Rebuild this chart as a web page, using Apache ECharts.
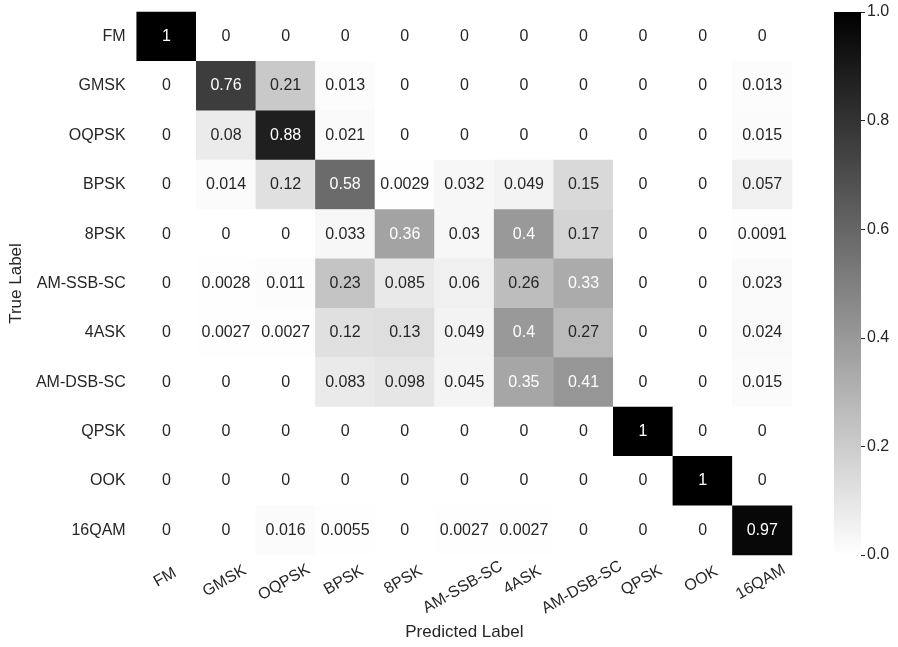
<!DOCTYPE html>
<html>
<head>
<meta charset="utf-8">
<script src="https://cdn.jsdelivr.net/npm/echarts@6/dist/echarts.min.js"></script>
<style>
html,body{margin:0;padding:0;background:#fff;}
#chart{width:898px;height:647px;}
</style>
</head>
<body>
<div id="chart"></div>
<script>
// Class labels (predicted = columns, true = rows)
const classes = ['FM','GMSK','OQPSK','BPSK','8PSK','AM-SSB-SC','4ASK','AM-DSB-SC','QPSK','OOK','16QAM'];

// Confusion matrix rows (true label), values per predicted label
const rowFM       = [1, 0, 0, 0, 0, 0, 0, 0, 0, 0, 0];
const rowGMSK     = [0, 0.76, 0.21, 0.013, 0, 0, 0, 0, 0, 0, 0.013];
const rowOQPSK    = [0, 0.08, 0.88, 0.021, 0, 0, 0, 0, 0, 0, 0.015];
const rowBPSK     = [0, 0.014, 0.12, 0.58, 0.0029, 0.032, 0.049, 0.15, 0, 0, 0.057];
const row8PSK     = [0, 0, 0, 0.033, 0.36, 0.03, 0.4, 0.17, 0, 0, 0.0091];
const rowAMSSBSC  = [0, 0.0028, 0.011, 0.23, 0.085, 0.06, 0.26, 0.33, 0, 0, 0.023];
const row4ASK     = [0, 0.0027, 0.0027, 0.12, 0.13, 0.049, 0.4, 0.27, 0, 0, 0.024];
const rowAMDSBSC  = [0, 0, 0, 0.083, 0.098, 0.045, 0.35, 0.41, 0, 0, 0.015];
const rowQPSK     = [0, 0, 0, 0, 0, 0, 0, 0, 1, 0, 0];
const rowOOK      = [0, 0, 0, 0, 0, 0, 0, 0, 0, 1, 0];
const row16QAM    = [0, 0, 0.016, 0.0055, 0, 0.0027, 0.0027, 0, 0, 0, 0.97];

// Colorbar tick values
const colorbarTicks = [0, 0.2, 0.4, 0.6, 0.8, 1.0];

const rows = [rowFM,rowGMSK,rowOQPSK,rowBPSK,row8PSK,rowAMSSBSC,row4ASK,rowAMDSBSC,rowQPSK,rowOOK,row16QAM];

const FONT = "'Liberation Sans', Arial, sans-serif";
const TXT = '#262626';

function fmt(v){ return String(parseFloat(v.toPrecision(2))); }
function textColor(v){
  const g = 1 - v;
  const lum = g <= 0.03928 ? g/12.92 : Math.pow((g+0.055)/1.055, 2.4);
  return lum > 0.408 ? TXT : '#ffffff';
}

const data = [];
rows.forEach((r, yi) => r.forEach((v, xi) => {
  data.push({ value: [xi, yi, v], label: { color: textColor(v) } });
}));

// x tick labels: rotated 30deg; each label is shifted straight down
// below the heatmap (longer labels a little lower), via rich padding
const ctx = document.createElement('canvas').getContext('2d');
ctx.font = "16px 'Liberation Sans'";
const xRich = {};
classes.forEach((c, i) => {
  const L = ctx.measureText(c).width;
  const s = 19 + 0.15 * L;
  const dx = -1.5;
  // local shift: along text = -0.5s + 0.866dx, perpendicular = 0.866s + 0.5dx
  const along = -0.5 * s + 0.866 * dx;
  const perp = 0.866 * s + 0.5 * dx;
  xRich['t' + i] = {
    fontSize: 16, color: TXT, fontFamily: FONT,
    padding: [Math.max(0, 2 * perp), Math.max(0, -2 * along), Math.max(0, -2 * perp), Math.max(0, 2 * along)]
  };
});

const chart = echarts.init(document.getElementById('chart'));
chart.setOption({
  backgroundColor: '#ffffff',
  animation: false,
  textStyle: { fontFamily: FONT },
  grid: [
    { left: 122, top: 12, width: 670, height: 543 },
    { left: 834, top: 12, width: 27, height: 543 }
  ],
  xAxis: [
    {
      type: 'category', gridIndex: 0, data: classes, z: 10,
      axisLine: { show: false }, axisTick: { show: false }, splitLine: { show: false },
      axisLabel: { interval: 0, rotate: 30, align: 'center', verticalAlign: 'middle', margin: 0,
                   fontSize: 16, color: TXT, fontFamily: FONT, hideOverlap: false,
                   formatter: (v, i) => '{t' + i + '|' + v + '}', rich: xRich },
      name: 'Predicted Label', nameLocation: 'middle', nameGap: 69,
      nameTextStyle: { fontSize: 17, color: TXT, fontFamily: FONT }
    },
    {
      type: 'category', gridIndex: 1, data: ['cb'], show: false
    }
  ],
  yAxis: [
    {
      type: 'category', gridIndex: 0, data: classes, inverse: true,
      axisLine: { show: false }, axisTick: { show: false }, splitLine: { show: false },
      axisLabel: { interval: 0, fontSize: 16, color: TXT, fontFamily: FONT, margin: 11 },
      name: 'True Label', nameLocation: 'middle', nameGap: 100, nameRotate: 90,
      nameTextStyle: { fontSize: 17, color: TXT, fontFamily: FONT }
    },
    {
      type: 'value', gridIndex: 1, position: 'right', min: 0, max: 1, interval: 0.2,
      axisLine: { show: false }, splitLine: { show: false },
      axisTick: { show: true, length: 4, lineStyle: { color: TXT, width: 1 } },
      axisLabel: { fontSize: 16, color: TXT, fontFamily: FONT, margin: 6,
                   formatter: v => v.toFixed(1) }
    }
  ],
  visualMap: {
    show: false, type: 'continuous', min: 0, max: 1, seriesIndex: 0,
    inRange: { color: ['#ffffff', '#000000'] }
  },
  series: [
    {
      type: 'heatmap', xAxisIndex: 0, yAxisIndex: 0, data: data,
      label: { show: true, fontSize: 16, fontFamily: FONT,
               formatter: p => fmt(p.value[2]) },
      itemStyle: { borderWidth: 0 },
      emphasis: { disabled: true }
    },
    {
      type: 'bar', xAxisIndex: 1, yAxisIndex: 1, barWidth: '100%',
      data: [colorbarTicks[colorbarTicks.length - 1]],
      itemStyle: {
        color: new echarts.graphic.LinearGradient(0, 0, 0, 1, [
          { offset: 0, color: '#000000' }, { offset: 1, color: '#ffffff' }
        ])
      },
      silent: true
    }
  ]
});
</script>
</body>
</html>
